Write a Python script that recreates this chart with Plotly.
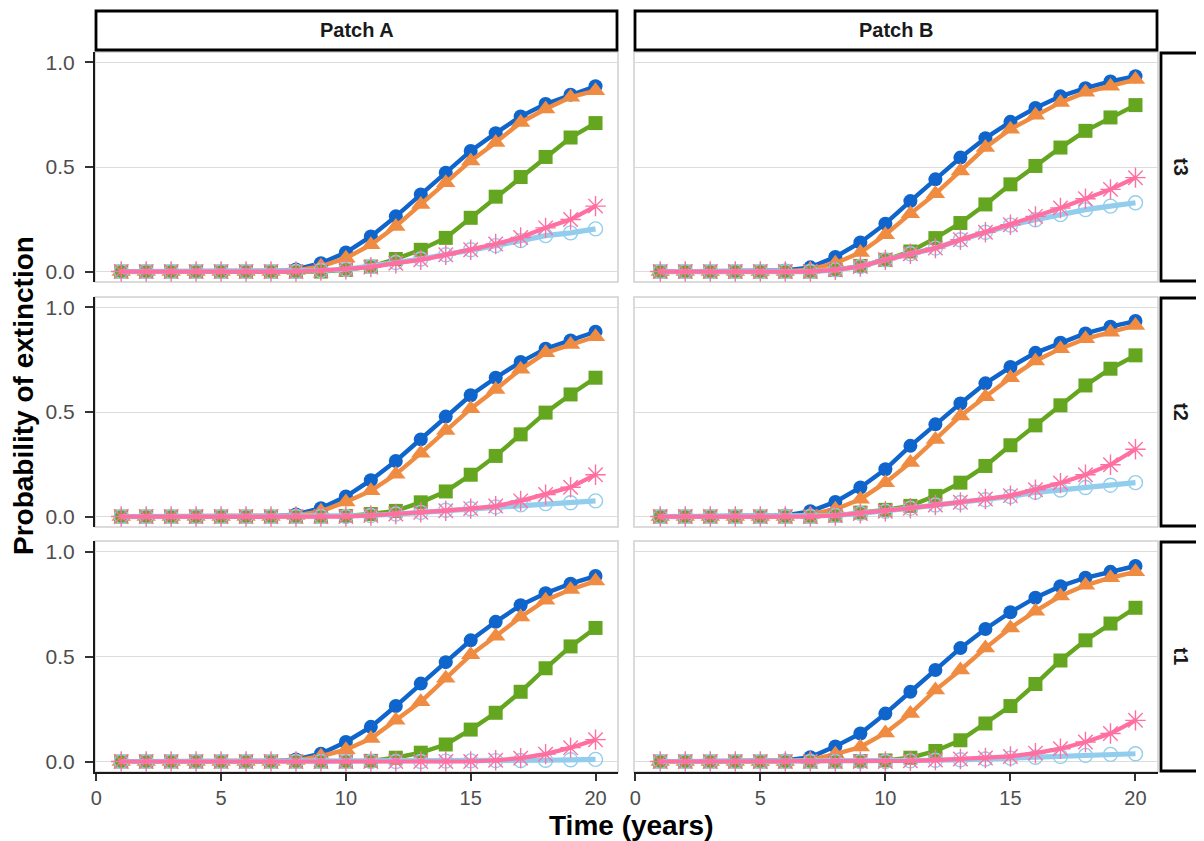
import plotly.graph_objects as go
from plotly.subplots import make_subplots

years = list(range(1, 21))
patches = ["Patch A", "Patch B"]
treatments = ["t3", "t2", "t1"]

# Patch A, t3
pA_t3_s1 = [0, 0, 0, 0, 0, 0, 0, 0.01, 0.04, 0.091, 0.168, 0.264, 0.369, 0.473, 0.577, 0.662, 0.742, 0.801, 0.846, 0.886]
pA_t3_s2 = [0, 0, 0, 0, 0, 0, 0, 0.005, 0.025, 0.064, 0.128, 0.216, 0.321, 0.425, 0.529, 0.617, 0.713, 0.777, 0.834, 0.865]
pA_t3_s3 = [0, 0, 0, 0, 0, 0, 0, 0, 0, 0.008, 0.024, 0.06, 0.104, 0.161, 0.257, 0.358, 0.452, 0.548, 0.641, 0.71]
pA_t3_s4 = [0, 0, 0, 0, 0, 0, 0, 0, 0.005, 0.011, 0.021, 0.04, 0.056, 0.08, 0.104, 0.132, 0.163, 0.209, 0.249, 0.313]
pA_t3_s5 = [0, 0, 0, 0, 0, 0, 0, 0, 0.005, 0.011, 0.024, 0.043, 0.06, 0.08, 0.104, 0.124, 0.148, 0.172, 0.185, 0.204]

# Patch B, t3
pB_t3_s1 = [0, 0, 0, 0, 0, 0.005, 0.02, 0.07, 0.139, 0.229, 0.337, 0.441, 0.545, 0.638, 0.716, 0.782, 0.838, 0.877, 0.909, 0.934]
pB_t3_s2 = [0, 0, 0, 0, 0, 0, 0.01, 0.04, 0.091, 0.176, 0.277, 0.372, 0.481, 0.593, 0.681, 0.748, 0.809, 0.857, 0.886, 0.918]
pB_t3_s3 = [0, 0, 0, 0, 0, 0, 0, 0.008, 0.027, 0.056, 0.096, 0.16, 0.232, 0.321, 0.417, 0.505, 0.593, 0.673, 0.737, 0.796]
pB_t3_s4 = [0, 0, 0, 0, 0, 0, 0, 0.008, 0.024, 0.056, 0.085, 0.112, 0.152, 0.188, 0.224, 0.264, 0.304, 0.348, 0.393, 0.449]
pB_t3_s5 = [0, 0, 0, 0, 0, 0, 0, 0.008, 0.024, 0.056, 0.085, 0.112, 0.152, 0.188, 0.222, 0.248, 0.272, 0.296, 0.313, 0.329]

# Patch A, t2
pA_t2_s1 = [0, 0, 0, 0, 0, 0, 0, 0.01, 0.04, 0.096, 0.174, 0.266, 0.369, 0.478, 0.58, 0.664, 0.739, 0.803, 0.842, 0.884]
pA_t2_s2 = [0, 0, 0, 0, 0, 0, 0, 0.005, 0.025, 0.07, 0.123, 0.202, 0.303, 0.412, 0.516, 0.608, 0.704, 0.783, 0.823, 0.86]
pA_t2_s3 = [0, 0, 0, 0, 0, 0, 0, 0, 0, 0.003, 0.012, 0.027, 0.068, 0.12, 0.2, 0.29, 0.393, 0.497, 0.584, 0.664]
pA_t2_s4 = [0, 0, 0, 0, 0, 0, 0, 0, 0, 0, 0.005, 0.012, 0.02, 0.028, 0.038, 0.05, 0.075, 0.105, 0.14, 0.2]
pA_t2_s5 = [0, 0, 0, 0, 0, 0, 0, 0, 0, 0, 0.005, 0.012, 0.02, 0.03, 0.037, 0.046, 0.056, 0.062, 0.066, 0.075]

# Patch B, t2
pB_t2_s1 = [0, 0, 0, 0, 0, 0.005, 0.025, 0.07, 0.139, 0.226, 0.338, 0.441, 0.541, 0.637, 0.715, 0.783, 0.831, 0.876, 0.908, 0.935]
pB_t2_s2 = [0, 0, 0, 0, 0, 0, 0.01, 0.035, 0.083, 0.162, 0.258, 0.369, 0.481, 0.573, 0.664, 0.744, 0.803, 0.85, 0.882, 0.914]
pB_t2_s3 = [0, 0, 0, 0, 0, 0, 0, 0.005, 0.019, 0.032, 0.051, 0.099, 0.162, 0.242, 0.341, 0.436, 0.532, 0.627, 0.707, 0.771]
pB_t2_s4 = [0, 0, 0, 0, 0, 0, 0, 0.005, 0.015, 0.025, 0.04, 0.055, 0.068, 0.084, 0.1, 0.128, 0.16, 0.2, 0.248, 0.322]
pB_t2_s5 = [0, 0, 0, 0, 0, 0, 0, 0.005, 0.015, 0.025, 0.04, 0.055, 0.067, 0.08, 0.096, 0.116, 0.127, 0.139, 0.15, 0.162]

# Patch A, t1
pA_t1_s1 = [0, 0, 0, 0, 0, 0, 0, 0.01, 0.037, 0.093, 0.165, 0.264, 0.371, 0.473, 0.577, 0.665, 0.744, 0.801, 0.847, 0.883]
pA_t1_s2 = [0, 0, 0, 0, 0, 0, 0, 0.005, 0.025, 0.056, 0.109, 0.196, 0.284, 0.396, 0.508, 0.596, 0.688, 0.768, 0.819, 0.859]
pA_t1_s3 = [0, 0, 0, 0, 0, 0, 0, 0, 0, 0, 0.003, 0.018, 0.042, 0.081, 0.152, 0.232, 0.332, 0.444, 0.548, 0.636]
pA_t1_s4 = [0, 0, 0, 0, 0, 0, 0, 0, 0, 0, 0, 0, 0, 0, 0, 0.006, 0.016, 0.035, 0.066, 0.104]
pA_t1_s5 = [0, 0, 0, 0, 0, 0, 0, 0, 0, 0, 0, 0, 0, 0.002, 0.003, 0.004, 0.005, 0.006, 0.008, 0.01]

# Patch B, t1
pB_t1_s1 = [0, 0, 0, 0, 0, 0.005, 0.02, 0.072, 0.133, 0.228, 0.332, 0.436, 0.54, 0.631, 0.711, 0.78, 0.835, 0.875, 0.903, 0.931]
pB_t1_s2 = [0, 0, 0, 0, 0, 0, 0.008, 0.035, 0.069, 0.136, 0.228, 0.34, 0.436, 0.54, 0.636, 0.716, 0.788, 0.839, 0.875, 0.903]
pB_t1_s3 = [0, 0, 0, 0, 0, 0, 0, 0, 0.002, 0.005, 0.018, 0.05, 0.101, 0.181, 0.264, 0.369, 0.481, 0.577, 0.657, 0.732]
pB_t1_s4 = [0, 0, 0, 0, 0, 0, 0, 0, 0, 0, 0.003, 0.007, 0.012, 0.017, 0.024, 0.04, 0.061, 0.093, 0.133, 0.196]
pB_t1_s5 = [0, 0, 0, 0, 0, 0, 0, 0, 0, 0, 0.003, 0.006, 0.008, 0.012, 0.016, 0.02, 0.024, 0.029, 0.034, 0.037]

panel_data = {
    ("Patch A", "t3"): [pA_t3_s1, pA_t3_s2, pA_t3_s3, pA_t3_s5, pA_t3_s4],
    ("Patch B", "t3"): [pB_t3_s1, pB_t3_s2, pB_t3_s3, pB_t3_s5, pB_t3_s4],
    ("Patch A", "t2"): [pA_t2_s1, pA_t2_s2, pA_t2_s3, pA_t2_s5, pA_t2_s4],
    ("Patch B", "t2"): [pB_t2_s1, pB_t2_s2, pB_t2_s3, pB_t2_s5, pB_t2_s4],
    ("Patch A", "t1"): [pA_t1_s1, pA_t1_s2, pA_t1_s3, pA_t1_s5, pA_t1_s4],
    ("Patch B", "t1"): [pB_t1_s1, pB_t1_s2, pB_t1_s3, pB_t1_s5, pB_t1_s4],
}

# styles, in draw order: blue, orange, green, light blue, pink
styles = [
    dict(color="#0F65CC", symbol="circle", size=14, lw=4.4, mlw=0),
    dict(color="#F08C42", symbol="triangle-up", size=17, lw=4.4, mlw=0),
    dict(color="#64A61F", symbol="square", size=14, lw=4.4, mlw=0),
    dict(color="#93CDEE", symbol="circle-open", size=14, lw=5.2, mlw=1.4),
    dict(color="#FF6FA1", symbol="asterisk-open", size=17, lw=4.2, mlw=1.4),
]

# the page body has an 8 px margin; the figure is sized to fit the window
OFF = 8
W, H = 1204 - OFF, 841 - OFF
FONT = "Liberation Sans, Arial, sans-serif"


def px(x):
    return (x - OFF) / W


def py(y):
    return 1 - (y - OFF) / H


col_px = [(95, 618), (634, 1158)]
row_px = [(52, 282), (297, 527), (541, 772)]

fig = make_subplots(rows=3, cols=2)

for r, tr in enumerate(treatments):
    for c, pt in enumerate(patches):
        for vals, st in zip(panel_data[(pt, tr)], styles):
            fig.add_trace(
                go.Scatter(
                    x=years, y=vals, mode="lines+markers", showlegend=False,
                    line=dict(color=st["color"], width=st["lw"]),
                    marker=dict(color=st["color"], symbol=st["symbol"], size=st["size"],
                                line=dict(color=st["color"], width=st["mlw"])),
                    cliponaxis=False,
                ),
                row=r + 1, col=c + 1,
            )

shapes = []
annotations = []
for r in range(3):
    for c in range(2):
        idx = r * 2 + c + 1
        xa = "xaxis" if idx == 1 else f"xaxis{idx}"
        ya = "yaxis" if idx == 1 else f"yaxis{idx}"
        x0, x1 = col_px[c]
        y0, y1 = row_px[r]
        fig.layout[xa].update(
            domain=[px(x0), px(x1)], range=[-0.05, 20.9],
            tickvals=[0, 5, 10, 15, 20], showgrid=False, zeroline=False,
            showline=(r == 2), linecolor="#1a1a1a", linewidth=2.2,
            ticks="outside" if r == 2 else "", ticklen=7, tickwidth=2.2, tickcolor="#333333",
            showticklabels=(r == 2), automargin=False,
            tickfont=dict(family=FONT, size=20, color="#4D4D4D"),
        )
        fig.layout[ya].update(
            domain=[py(y1), py(y0)], range=[-0.05, 1.05],
            tickvals=[0, 0.5, 1.0], ticktext=["0.0", "0.5", "1.0"],
            showgrid=True, gridcolor="#DCDCDC", gridwidth=1.3, zeroline=False,
            showline=(c == 0), linecolor="#1a1a1a", linewidth=2.2,
            ticks="outside" if c == 0 else "", ticklen=8, tickwidth=2.2, tickcolor="#333333",
            showticklabels=(c == 0), automargin=False, ticklabelstandoff=6,
            tickfont=dict(family=FONT, size=21, color="#4D4D4D"),
        )
        shapes.append(dict(type="rect", xref="paper", yref="paper",
                           x0=px(x0), x1=px(x1), y0=py(y1), y1=py(y0),
                           line=dict(color="#D0D0D0", width=1.5), layer="below"))

# top strips
for c, pt in enumerate(patches):
    x0, x1 = col_px[c]
    shapes.append(dict(type="rect", xref="paper", yref="paper",
                       x0=px(x0 + 1), x1=px(x1 - 1), y0=py(50), y1=py(11),
                       line=dict(color="black", width=2.8), fillcolor="white"))
    annotations.append(dict(x=px((x0 + x1) / 2), y=py(30.5), xref="paper", yref="paper",
                            xanchor="center", yanchor="middle",
                            text=f"<b>{pt}</b>", showarrow=False,
                            font=dict(family=FONT, size=20, color="#1a1a1a")))

# right strips
for r, tr in enumerate(treatments):
    y0, y1 = row_px[r]
    shapes.append(dict(type="rect", xref="paper", yref="paper",
                       x0=px(1161), x1=px(1200), y0=py(y1 - 1), y1=py(y0 + 1),
                       line=dict(color="black", width=2.8), fillcolor="white"))
    annotations.append(dict(x=px(1181), y=py((y0 + y1) / 2), xref="paper", yref="paper",
                            xanchor="center", yanchor="middle",
                            text=f"<b>{tr}</b>", showarrow=False, textangle=90,
                            font=dict(family=FONT, size=20, color="#1a1a1a")))

# axis titles
annotations.append(dict(x=px(631), y=py(825), xref="paper", yref="paper",
                        xanchor="center", yanchor="middle",
                        text="<b>Time (years)</b>", showarrow=False,
                        font=dict(family=FONT, size=28, color="black")))
annotations.append(dict(x=px(23), y=py(396), xref="paper", yref="paper",
                        xanchor="center", yanchor="middle",
                        text="<b>Probability of extinction</b>", showarrow=False, textangle=-90,
                        font=dict(family=FONT, size=28, color="black")))

fig.update_layout(
    width=W, height=H,
    margin=dict(l=0, r=0, t=0, b=0),
    paper_bgcolor="white", plot_bgcolor="white",
    shapes=shapes, annotations=annotations,
    showlegend=False,
    font=dict(family=FONT),
)

fig.write_html("out.html")
